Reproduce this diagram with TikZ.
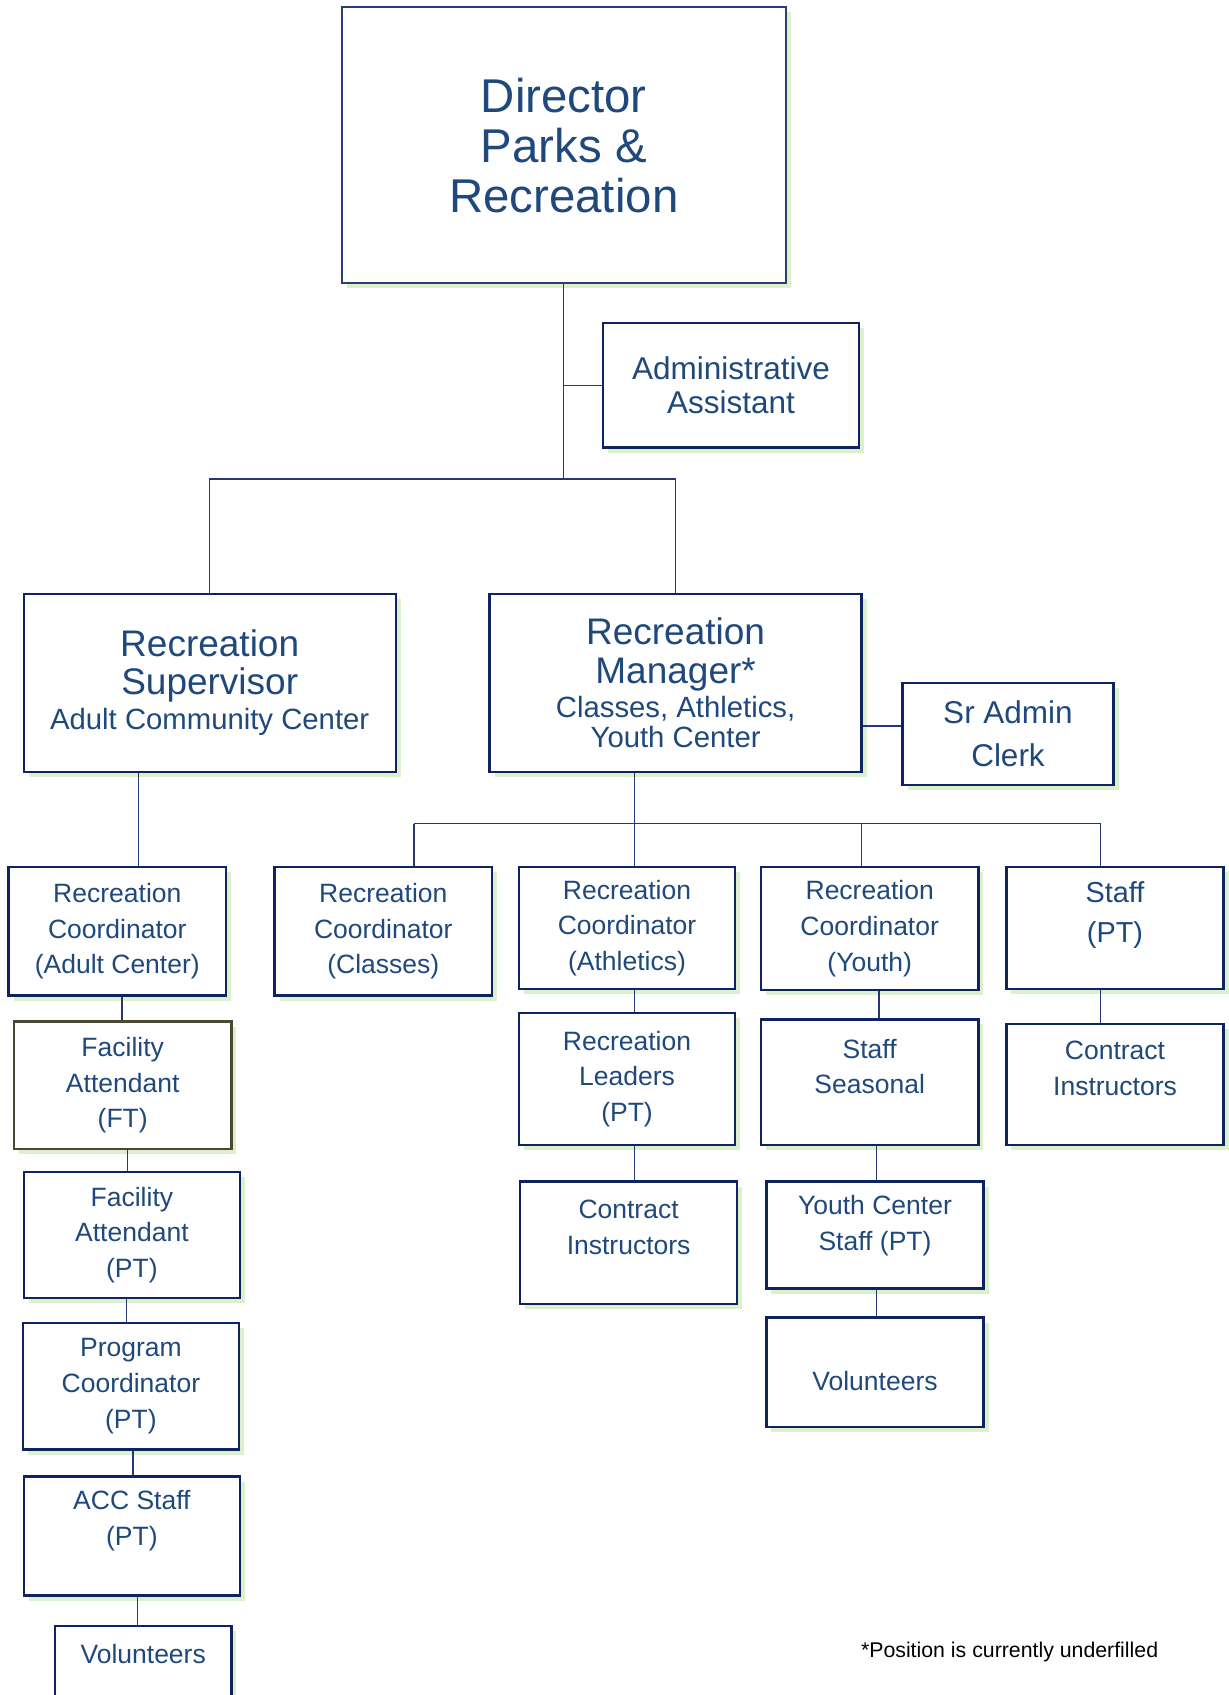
\documentclass[tikz,border=0pt]{standalone}
\usepackage{fontspec}
\setmainfont{Liberation Sans}
\usetikzlibrary{%
  shadows%
}
\definecolor{txtblue}{RGB}{31,73,125}
\definecolor{boxblue}{RGB}{14,36,98}
\definecolor{dirblue}{RGB}{40,62,120}
\definecolor{lineblue}{RGB}{38,56,115}
\definecolor{ftolive}{RGB}{75,72,50}
\definecolor{glow}{RGB}{220,240,204}
\newcommand{\fs}[2]{\fontsize{#1}{#2}\selectfont}
\tikzset{
  box/.style={draw=boxblue, line width=2.4pt, fill=white, align=center,
    text=txtblue,
    drop shadow={fill=glow, opacity=1, shadow xshift=5pt, shadow yshift=-5pt}},
  small/.style={font=\fs{26.5}{35.7}},
  conn/.style={draw=lineblue, line width=1.3pt},
}

\begin{document}
\begin{tikzpicture}[x=1pt,y=-1pt]
  \path[fill=white, use as bounding box] (0,0) rectangle (1229,1695);

  \node[box, draw=dirblue, line width=2pt, minimum width=444pt, minimum height=276pt,
    font=\fs{47.4}{50}] (dir) at (563.8,145.4) {Director\\Parks \&\\Recreation};
  \node[box, minimum width=256pt, minimum height=124.5pt, font=\fs{31.5}{33.5}]
    (adm) at (731,385.3) {Administrative\\Assistant};
  \node[box, minimum width=372pt, minimum height=178pt, font=\fs{37}{37.8}]
    (sup) at (209.7,682.7) {Recreation\\Supervisor\\[-2pt]{\fs{29.3}{35.7}Adult Community Center}};
  \node[box, minimum width=372pt, minimum height=178pt, font=\fs{37}{39}]
    (mgr) at (675.6,682.7) {Recreation\\Manager*\\[-4.4pt]{\fs{29.3}{34.6}Classes, Athletics,}\\[-8.7pt]{\fs{29.3}{30.3}Youth Center}};
  \node[box, minimum width=211pt, minimum height=101.6pt, font=\fs{31.5}{43}]
    (clk) at (1008,734) {Sr Admin\\Clerk};

  % coordinators
  \node[box, small, minimum width=217.4pt, minimum height=128.6pt] (adl) at (117.3,931.3) {Recreation\\Coordinator\\(Adult Center)};
  \node[box, small, minimum width=217.3pt, minimum height=128.6pt] (cls) at (383.3,931.3) {Recreation\\Coordinator\\(Classes)};
  \node[box, small, minimum width=216.1pt, minimum height=122pt] (ath) at (627,928) {Recreation\\Coordinator\\(Athletics)};
  \node[box, small, minimum width=217.3pt, minimum height=123pt] (yth) at (869.7,928.6) {Recreation\\Coordinator\\(Youth)};
  \node[box, font=\fs{28.9}{40}, minimum width=217.3pt, minimum height=122pt] (stf) at (1115,928) {Staff\\(PT)\\[-7.9pt]\mbox{}};

  % adult center column
  \node[box, small, draw=ftolive, minimum width=217.3pt, minimum height=127.5pt] (fft) at (122.7,1085.3) {Facility\\Attendant\\(FT)};
  \node[box, small, minimum width=216.2pt, minimum height=126.5pt] (fpt) at (131.9,1235) {Facility\\Attendant\\(PT)};
  \node[box, small, minimum width=216.3pt, minimum height=126.6pt] (prg) at (130.9,1386.3) {Program\\Coordinator\\(PT)};
  \node[box, small, minimum width=216.2pt, minimum height=119pt] (acc) at (131.9,1536) {ACC Staff\\(PT)\\\mbox{}};
  \node[box, small, minimum width=176.3pt, minimum height=128pt] (vol1) at (143.2,1690) {Volunteers\\\mbox{}\\\mbox{}};

  % athletics, youth, staff columns
  \node[box, small, minimum width=216pt, minimum height=131.8pt] (ldr) at (627,1078.9) {Recreation\\Leaders\\(PT)};
  \node[box, small, minimum width=217.2pt, minimum height=122.2pt] (cin1) at (628.6,1242.6) {Contract\\Instructors\\[-5.5pt]\mbox{}};
  \node[box, small, minimum width=217.3pt, minimum height=125.4pt] (sea) at (869.7,1082.1) {Staff\\Seasonal\\[-4.3pt]\mbox{}};
  \node[box, small, minimum width=217.3pt, minimum height=107pt] (ycs) at (875,1235) {Youth Center\\Staff (PT)\\[-11.7pt]\mbox{}};
  \node[box, small, minimum width=217.3pt, minimum height=109.3pt] (vol2) at (875,1372.3) {\mbox{}\\Volunteers};
  \node[box, small, minimum width=217.3pt, minimum height=121.1pt] (cin2) at (1115,1084.3) {Contract\\Instructors\\[-3.3pt]\mbox{}};

  \node[font=\fs{21.3}{25}, text=black] (note) at (1009.6,1651.8) {*Position is currently underfilled};

  % connectors
  \coordinate (topbus) at (563.8,479);
  \coordinate (midbus) at (634.5,823.7);
  \draw[conn] (dir.south) -- (topbus);
  \draw[conn] (adm.west -| dir.south) -- (adm.west);
  \draw[conn] (sup.north) |- (topbus) -| (mgr.north);
  \draw[conn] ([yshift=8pt]clk.west) -- ([yshift=8pt]clk.west -| mgr.east);
  \draw[conn] (mgr.south -| midbus) -- (midbus |- ath.north);
  \draw[conn] (midbus -| 414,0) -- (midbus -| 1100.5,0);
  \foreach \n/\x in {cls/414, yth/861.6, stf/1100.5}
    \draw[conn] (midbus -| \x,0) -- (\n.north -| \x,0);
  \foreach \a/\b/\x in {sup/adl/138.4, adl/fft/122, fft/fpt/127.6, fpt/prg/126.5,
      prg/acc/133, acc/vol1/137.3, ath/ldr/634.5, ldr/cin1/634.5, yth/sea/879,
      sea/ycs/876.7, ycs/vol2/876.7, stf/cin2/1100.5}
    \draw[conn] (\a.south -| \x,0) -- (\b.north -| \x,0);
\end{tikzpicture}
\end{document}
